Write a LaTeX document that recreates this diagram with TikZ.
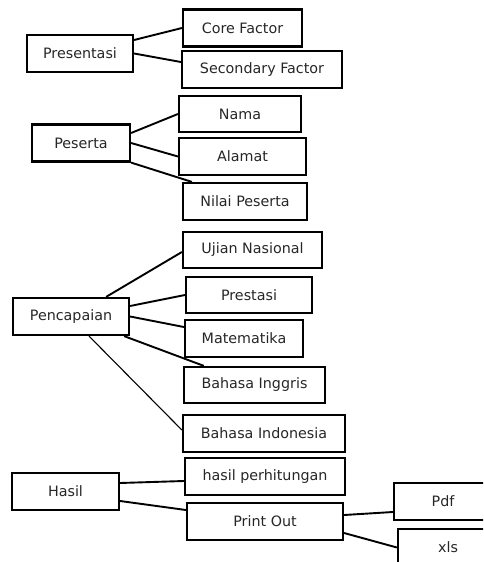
\documentclass[tikz,border=0pt]{standalone}
\usepackage{fontspec}
\setmainfont{DejaVu Sans}
\usepackage{tikz}

\tikzset{
  box/.style={draw=black, line width=2.2pt, text=black!85, inner sep=0pt,
    minimum height=37pt, font=\fontsize{14.3}{17}\selectfont},
  link/.style={line width=1.9pt},
}

\begin{document}
\begin{tikzpicture}[x=1pt, y=-1pt]
\useasboundingbox (0,0) rectangle (483,562);
\clip (0,0) rectangle (483,562);

% Presentasi
\node[box, minimum width=106pt] (presentasi) at (80,53.5) {Presentasi};
\node[box, minimum width=119pt] (core) at (242.5,28) {Core Factor};
\node[box, minimum width=160pt] (secondary) at (262,69.5) {Secondary Factor};
\draw[link] ([yshift=13.5pt]presentasi.east) -- (core.west);
\draw[link] (presentasi.east) -- ([yshift=7.5pt]secondary.west);

% Peserta
\node[box, minimum width=98pt] (peserta) at (81,143) {Peserta};
\node[box, minimum width=122pt, minimum height=36pt] (nama) at (240,114) {Nama};
\node[box, minimum width=127pt] (alamat) at (242.5,156.5) {Alamat};
\node[box, minimum width=124pt] (nilai) at (245,201.5) {Nilai Peserta};
\draw[link] ([yshift=10pt]peserta.east) -- (nama.west);
\draw[link] (peserta.east) -- (alamat.west);
\draw[link] (peserta.south east) -- ([xshift=10pt]nilai.north west);

% Pencapaian
\node[box, minimum width=116pt] (pencapaian) at (71,316.5) {Pencapaian};
\node[box, minimum width=139pt, minimum height=36pt] (ujian) at (252.5,250) {Ujian Nasional};
\node[box, minimum width=126pt, minimum height=36pt] (prestasi) at (249,295) {Prestasi};
\node[box, minimum width=118pt] (matematika) at (244,338.5) {Matematika};
\node[box, minimum width=141pt, minimum height=36pt] (inggris) at (254.5,385) {Bahasa Inggris};
\node[box, minimum width=162pt] (indonesia) at (264,433.5) {Bahasa Indonesia};
\draw[link] ([xshift=-24pt]pencapaian.north east) -- ([yshift=-2pt]ujian.west);
\draw[link] ([yshift=10.5pt]pencapaian.east) -- (prestasi.west);
\draw[link] (pencapaian.east) -- ([yshift=11.5pt]matematika.west);
\draw[link] ([xshift=-6pt]pencapaian.south east) -- ([xshift=21pt]inggris.north west);
\draw[line width=1.1pt] ([xshift=18pt]pencapaian.south) -- ([yshift=3.5pt]indonesia.west);

% Hasil
\node[box, minimum width=107pt] (hasil) at (65.5,491.5) {Hasil};
\node[box, minimum width=160pt] (perhitungan) at (265,476.5) {hasil perhitungan};
\node[box, minimum width=156pt] (printout) at (265,521.5) {Print Out};
\node[box, minimum width=98pt] (pdf) at (443,501.5) {Pdf};
\node[box, minimum width=100pt] (xls) at (448,547.5) {xls};
\draw[link] ([yshift=8.5pt]hasil.east) -- ([yshift=-4.5pt]perhitungan.west);
\draw[link] ([yshift=-9.5pt]hasil.east) -- ([yshift=11.5pt]printout.west);
\draw[link] ([yshift=6.5pt]printout.east) -- ([yshift=-10.5pt]pdf.west);
\draw[link] ([yshift=-11.5pt]printout.east) -- (xls.west);
\end{tikzpicture}
\end{document}
